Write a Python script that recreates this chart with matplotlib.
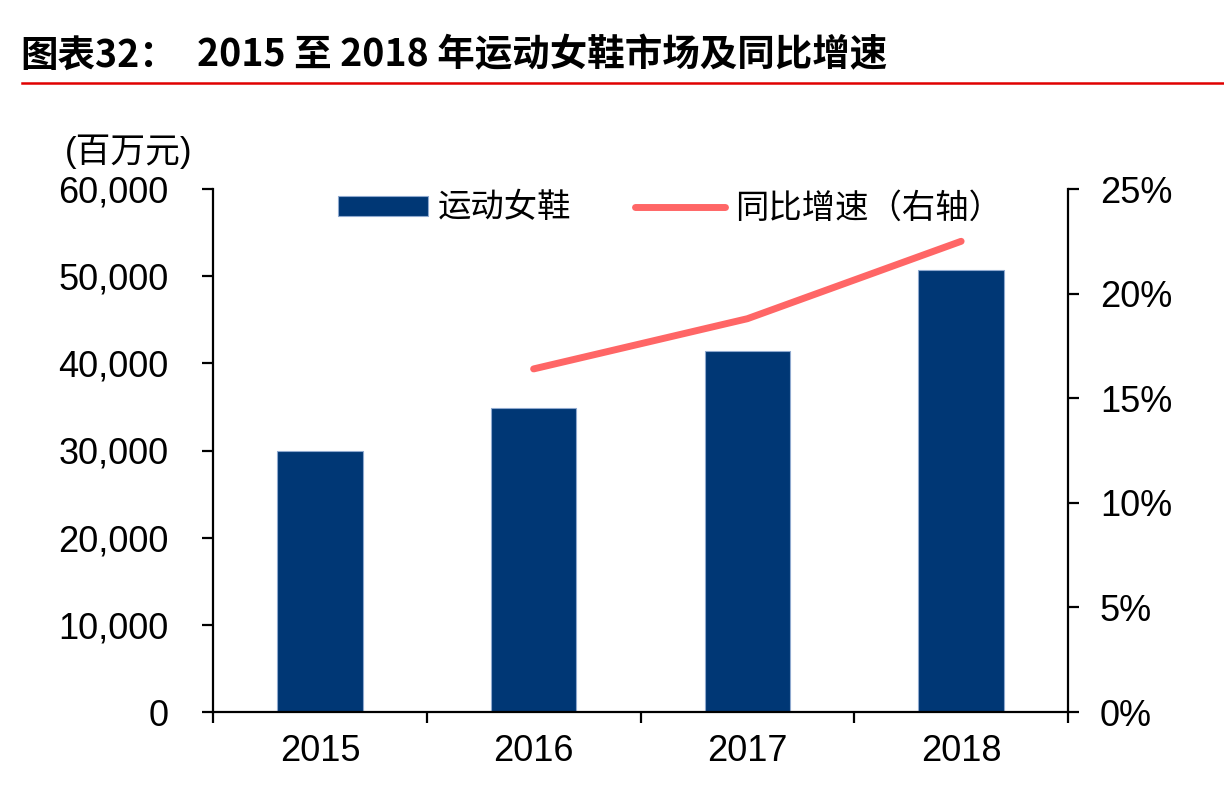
import numpy as np
import matplotlib
matplotlib.use("Agg")
import matplotlib.pyplot as plt
from matplotlib.patches import Patch
from matplotlib.lines import Line2D

years = ["2015", "2016", "2017", "2018"]
sales = [29900, 34900, 41400, 50700]          # 百万元
growth = [np.nan, 16.4, 18.8, 22.5]           # %
left_ticks = [0, 10000, 20000, 30000, 40000, 50000, 60000]
right_ticks = [0, 5, 10, 15, 20, 25]

BAR = "#003775"
LINE = "#FF6666"
CJK = ["Noto Sans CJK SC", "DejaVu Sans"]
NUM = ["Liberation Sans", "Noto Sans CJK SC"]

W, H = 1224, 788
fig = plt.figure(figsize=(W / 100, H / 100), dpi=100)
ax = fig.add_axes([213 / W, (H - 712) / H, (1068 - 213) / W, (712 - 189) / H])
ax2 = ax.twinx()

x = np.arange(len(years))
ax.bar(x, sales, width=0.4, color=BAR, edgecolor="#8FA9CF", linewidth=0.8, zorder=2)
ax2.plot(x, growth, color=LINE, linewidth=5, solid_capstyle="round", zorder=3)

ax.set_xlim(-0.5, 3.5)
ax.set_ylim(0, 60000)
ax2.set_ylim(0, 25)

ax.set_xticks(np.arange(-0.5, 4.0, 1.0))
ax.set_xticklabels([])
ax.set_xticks(x, minor=True)
ax.set_xticklabels(years, minor=True, fontfamily=NUM, fontsize=26)
ax.tick_params(axis="x", which="major", direction="out", length=8, width=1.6)
ax.tick_params(axis="x", which="minor", length=0, pad=16)

ax.set_yticks(left_ticks)
ax.set_yticklabels([f"{v:,}" for v in left_ticks], fontfamily=NUM, fontsize=26)
ax.tick_params(axis="y", direction="out", length=8, width=1.6, pad=24)

ax2.set_yticks(right_ticks)
ax2.set_yticklabels([f"{v}%" for v in right_ticks], fontfamily=NUM, fontsize=26)
ax2.tick_params(axis="y", direction="out", length=8, width=1.6, pad=15)

for a in (ax, ax2):
    a.spines["top"].set_visible(False)
    for s in ("left", "right", "bottom"):
        a.spines[s].set_linewidth(1.6)
ax.spines["right"].set_visible(False)
ax2.spines["left"].set_visible(False)
ax2.spines["bottom"].set_visible(False)

handles = [Patch(facecolor=BAR, edgecolor="#8FA9CF", linewidth=0.8),
           Line2D([0], [0], color=LINE, linewidth=5, solid_capstyle="round")]
labels = ["运动女鞋", "同比增速（右轴）"]
leg = fig.legend(handles, labels, loc="center left", bbox_to_anchor=(338 / W, 1 - 208 / H),
                 ncol=2, frameon=False, prop={"family": CJK, "size": 24},
                 handlelength=2.7, handleheight=0.55, handletextpad=0.3, columnspacing=1.9,
                 borderaxespad=0, borderpad=0)

# unit label
fig.text(65 / W, 1 - 152 / H, "(百万元)", fontfamily=NUM, fontsize=25, va="center", ha="left")

# title
fig.text(20 / W, 1 - 55 / H, "图表32：", fontfamily=CJK, fontsize=27, fontweight="bold",
         va="center", ha="left")
fig.text(197 / W, 1 - 55 / H, "2015 至 2018 年运动女鞋市场及同比增速", fontfamily=CJK,
         fontsize=27, fontweight="bold", va="center", ha="left")
fig.add_artist(Line2D([22 / W, 1.0], [1 - 82.5 / H, 1 - 82.5 / H], color="#E00000",
                      linewidth=1.8, transform=fig.transFigure))

fig.savefig("out.png", dpi=100)
